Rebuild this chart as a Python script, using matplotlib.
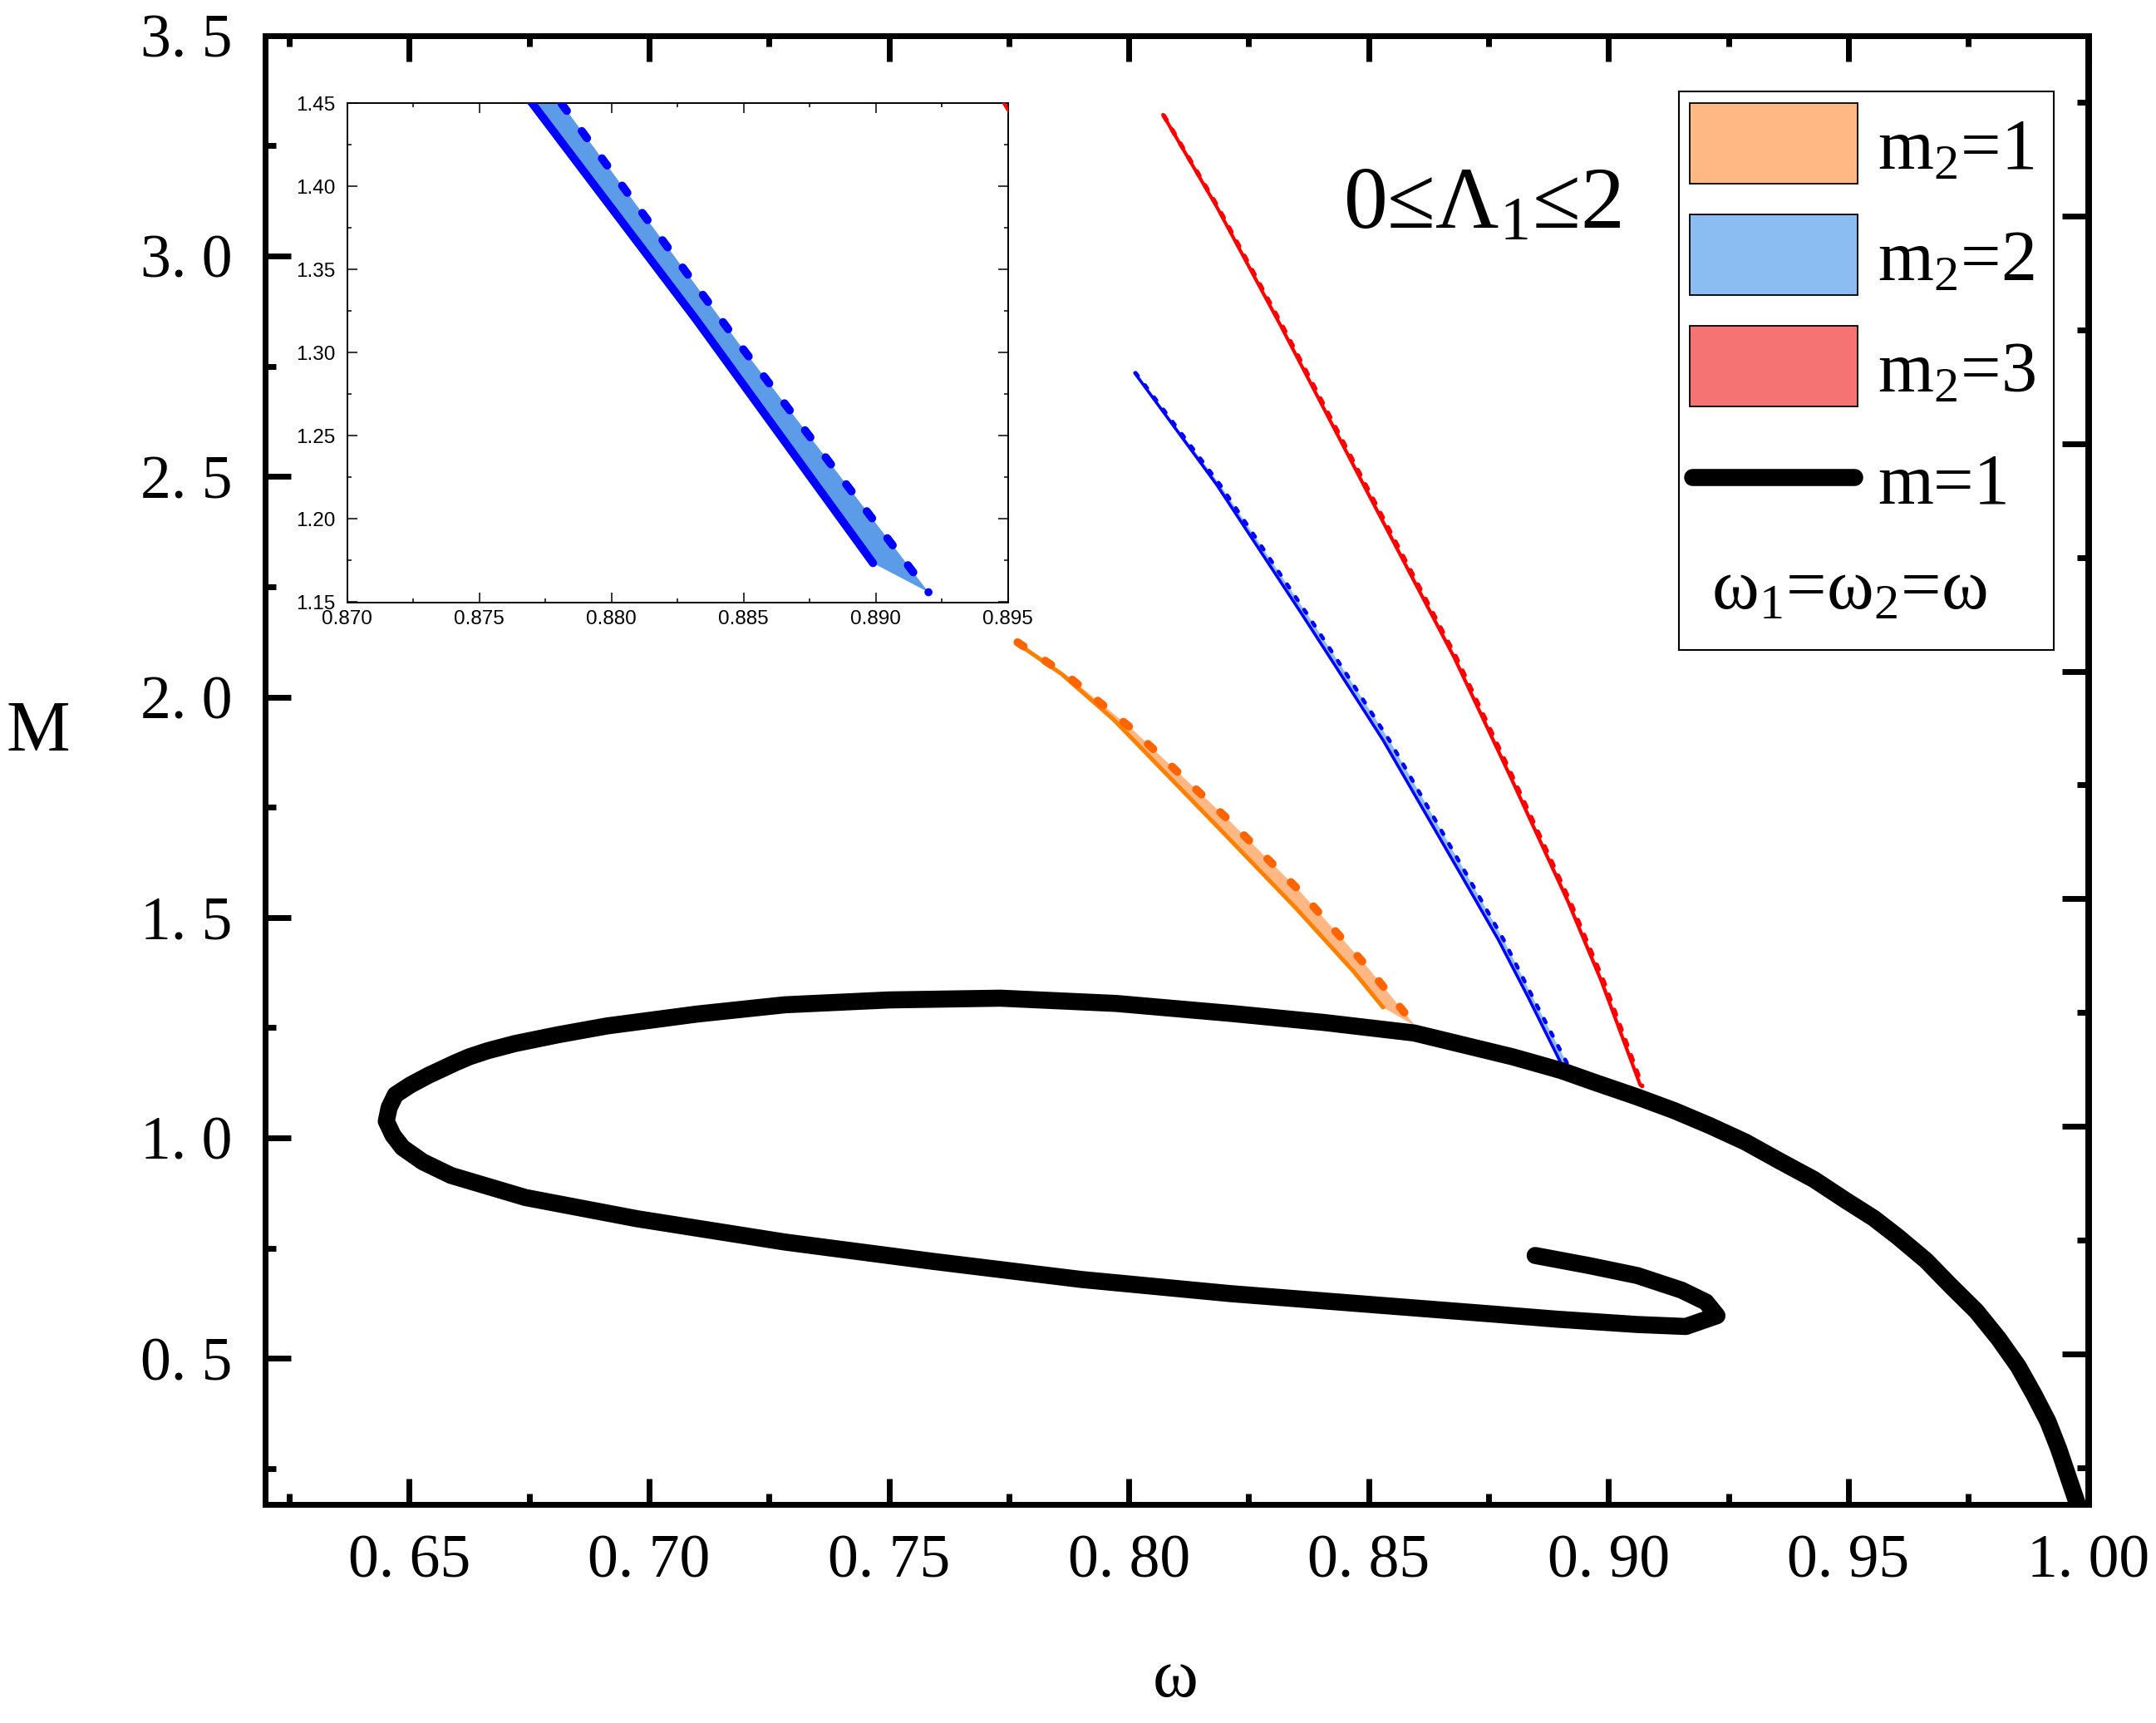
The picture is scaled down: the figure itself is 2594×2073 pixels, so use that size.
import numpy as np
import matplotlib
matplotlib.use("Agg")
import matplotlib.pyplot as plt
from matplotlib.ticker import MultipleLocator, FuncFormatter
from matplotlib.patches import Rectangle

plt.rcParams['font.family'] = ['Liberation Serif', 'DejaVu Serif']
plt.rcParams['mathtext.fontset'] = 'custom'
plt.rcParams['mathtext.rm'] = 'Liberation Serif'
plt.rcParams['mathtext.it'] = 'Liberation Serif:italic'
plt.rcParams['mathtext.default'] = 'regular'

# ---------------- data ----------------
# m = 1 curve (omega, M)
m1_w = [0.9979, 0.9938, 0.9916, 0.9888, 0.9854, 0.9813, 0.9767, 0.9713, 0.9662,
        0.9604, 0.9553, 0.9495, 0.9428, 0.9353, 0.9285, 0.9211, 0.9137,
        0.9060, 0.8974, 0.8901, 0.8800, 0.8595, 0.8406, 0.8217, 0.7974, 0.7732,
        0.7500, 0.7283, 0.7100, 0.6912, 0.6810, 0.6720, 0.6664, 0.6625, 0.6595,
        0.6540, 0.6502, 0.6471,
        0.6458, 0.6452, 0.6466, 0.6486, 0.6528, 0.6587, 0.6742, 0.6974,
        0.7283, 0.7593, 0.7902, 0.8212, 0.8614, 0.8767, 0.8893, 0.9060, 0.9161,
        0.9226, 0.9203, 0.9152, 0.9060, 0.8960, 0.8847]
m1_M = [0.165, 0.296, 0.357, 0.416, 0.482, 0.545, 0.607, 0.665, 0.722,
        0.775, 0.818, 0.858, 0.906, 0.950, 0.991, 1.028, 1.062,
        1.093, 1.125, 1.153, 1.184, 1.238, 1.262, 1.282, 1.305, 1.317,
        1.313, 1.302, 1.281, 1.254, 1.234, 1.214, 1.198, 1.184, 1.170,
        1.142, 1.120, 1.098,
        1.069, 1.038, 1.006, 0.978, 0.946, 0.915, 0.865, 0.817,
        0.764, 0.720, 0.679, 0.647, 0.613, 0.600, 0.589, 0.577, 0.5725,
        0.597, 0.628, 0.655, 0.688, 0.7105, 0.7335]

# m2 = 1 band (solid: Lambda1 = 0 edge, dashed: Lambda1 = 2 edge)
o_sol_w = [0.7772, 0.7860, 0.7968, 0.8190, 0.8345, 0.8469, 0.8530]
o_sol_M = [2.118, 2.052, 1.949, 1.700, 1.525, 1.377, 1.296]
o_das_w = [0.7768, 0.7872, 0.8005, 0.8209, 0.8357, 0.8500, 0.8598]
o_das_M = [2.124, 2.048, 1.929, 1.720, 1.559, 1.384, 1.253]

# m2 = 2 band
b_sol_w = [0.8012, 0.8183, 0.8363, 0.8426, 0.8530, 0.8695, 0.8770, 0.8832, 0.8899]
b_sol_M = [2.735, 2.4815, 2.184, 2.078, 1.902, 1.592, 1.450, 1.320, 1.1735]
b_das_w = [0.8014, 0.8190, 0.8374, 0.8438, 0.8543, 0.8707, 0.8781, 0.8848, 0.8920]
b_das_M = [2.735, 2.4815, 2.184, 2.078, 1.902, 1.592, 1.450, 1.306, 1.156]

# m2 = 3 band
r_sol_w = [0.8071, 0.8183, 0.8316, 0.8497, 0.8678, 0.8795, 0.8915, 0.8985, 0.9066]
r_sol_M = [3.3205, 3.112, 2.843, 2.465, 2.090, 1.820, 1.537, 1.3556, 1.120]
r_das_w = [0.8073, 0.8186, 0.8320, 0.8502, 0.8683, 0.8800, 0.8920, 0.8990, 0.9070]
r_das_M = [3.318, 3.110, 2.841, 2.463, 2.088, 1.818, 1.535, 1.354, 1.118]

legend_labels = ['m$_2$=1', 'm$_2$=2', 'm$_2$=3', 'm=1']
note_text = 'ω$_1$=ω$_2$=ω'
range_text = '0≤Λ$_1$≤2'

# ---------------- figure ----------------
W, H = 2594, 2073
fig = plt.figure(figsize=(W / 100, H / 100), dpi=100)

def frac_box(l, t, r, b):
    return [l / W, 1 - b / H, (r - l) / W, (b - t) / H]

ax = fig.add_axes(frac_box(319.3, 42.7, 2512.5, 1809.5))
ax.set_xlim(0.62, 1.00)
ax.set_ylim(0.17, 3.5)

C_OR_FILL, C_OR_SOL, C_OR_DAS = '#FFB784', '#FF8000', '#FF6400'
C_BL_FILL, C_BL = '#8CBDF2', '#0000FF'
C_RD_FILL, C_RD = '#F57373', '#FF0000'


def band(a, sw, sm, dw, dm, fill, lc_s, lc_d, lw_s, lw_d, dash, z=2):
    a.fill(np.concatenate([sw, dw[::-1]]), np.concatenate([sm, dm[::-1]]),
           color=fill, lw=0, zorder=z)
    a.plot(sw, sm, color=lc_s, lw=lw_s, solid_capstyle='round',
           solid_joinstyle='round', zorder=z + 1)
    a.plot(dw, dm, color=lc_d, lw=lw_d, ls=(0, dash), dash_capstyle='round',
           dash_joinstyle='round', zorder=z + 1)


band(ax, o_sol_w, o_sol_M, o_das_w, o_das_M, C_OR_FILL, C_OR_SOL, C_OR_DAS,
     3.6, 7.0, (0.9, 3.2))
band(ax, b_sol_w, b_sol_M, b_das_w, b_das_M, C_BL_FILL, C_BL, C_BL,
     2.6, 3.4, (1.0, 2.9))
band(ax, r_sol_w, r_sol_M, r_das_w, r_das_M, C_RD_FILL, C_RD, C_RD,
     3.0, 4.0, (1.1, 2.4))

ax.plot(m1_w, m1_M, color='k', lw=14.8, solid_capstyle='round',
        solid_joinstyle='round', zorder=6)

ax.xaxis.set_major_locator(MultipleLocator(0.05))
ax.xaxis.set_minor_locator(MultipleLocator(0.025))
ax.yaxis.set_major_locator(MultipleLocator(0.5))
ax.yaxis.set_minor_locator(MultipleLocator(0.25))
ax.xaxis.set_major_formatter(FuncFormatter(lambda v, p: f"{v:.2f}".replace('.', '. ')))
ax.yaxis.set_major_formatter(FuncFormatter(lambda v, p: f"{v:.1f}".replace('.', '. ')))
ax.tick_params(which='both', direction='in', top=True, right=False, width=5)
ax.tick_params(which='major', length=22.3, labelsize=53)
ax.tick_params(which='minor', length=9.4)
ax.tick_params(axis='x', which='major', pad=26)
ax.tick_params(axis='y', which='major', pad=29)
for s in ax.spines.values():
    s.set_linewidth(5)

# right axis (offset scale as in the original)
axr = ax.twinx()
axr.set_ylim(0.170, 3.397)
axr.yaxis.set_major_locator(MultipleLocator(0.5))
axr.yaxis.set_minor_locator(MultipleLocator(0.25))
axr.tick_params(which='both', direction='in', width=5, labelright=False)
axr.tick_params(which='major', length=22.3)
axr.tick_params(which='minor', length=9.4)
for s in axr.spines.values():
    s.set_linewidth(5)

fig.text(1414 / W, 1 - 2021 / H, 'ω', fontsize=60, ha='center', va='center')
fig.text(46 / W, 1 - 882 / H, 'M', fontsize=62, ha='center', va='center')
fig.text(1616 / W, 1 - 274 / H, range_text, fontsize=76, ha='left', va='baseline')

# ---------------- inset ----------------
axi = fig.add_axes(frac_box(417.7, 124.2, 1212.5, 724.5))
axi.set_xlim(0.870, 0.895)
axi.set_ylim(1.15, 1.45)
band(axi, b_sol_w, b_sol_M, b_das_w, b_das_M, '#5B9BE8', C_BL, C_BL,
     7.0, 7.0, (1.1, 3.1))
band(axi, r_sol_w, r_sol_M, r_das_w, r_das_M, C_RD_FILL, C_RD, C_RD,
     3.0, 3.0, (1.1, 3.1))
axi.xaxis.set_major_locator(MultipleLocator(0.005))
axi.xaxis.set_minor_locator(MultipleLocator(0.0025))
axi.yaxis.set_major_locator(MultipleLocator(0.05))
axi.yaxis.set_minor_locator(MultipleLocator(0.025))
axi.xaxis.set_major_formatter(FuncFormatter(lambda v, p: f"{v:.3f}"))
axi.yaxis.set_major_formatter(FuncFormatter(lambda v, p: f"{v:.2f}"))
axi.tick_params(which='both', direction='in', top=True, right=True, width=1.1)
axi.tick_params(which='major', length=8.4, labelsize=17.5)
axi.tick_params(which='minor', length=3.6)
axi.tick_params(axis='x', which='major', pad=7)
axi.tick_params(axis='y', which='major', pad=10)
for lab in axi.get_xticklabels() + axi.get_yticklabels():
    lab.set_family(['Liberation Sans', 'DejaVu Sans'])
for s in axi.spines.values():
    s.set_linewidth(1.4)

# ---------------- legend box ----------------
LL, LT, LR, LB = 2020, 110, 2471, 782
axl = fig.add_axes(frac_box(LL, LT, LR, LB))
axl.set_xlim(0, LR - LL)
axl.set_ylim(LB - LT, 0)
axl.set_xticks([])
axl.set_yticks([])
for s in axl.spines.values():
    s.set_linewidth(1.5)
patch_cols = [C_OR_FILL, C_BL_FILL, C_RD_FILL]
patch_tops = [14, 148, 282]
baselines = [93, 227, 361]
for col, top, bl, lab in zip(patch_cols, patch_tops, baselines, legend_labels[:3]):
    axl.add_patch(Rectangle((13, top), 202, 97, facecolor=col, edgecolor='k', lw=1.3))
    axl.text(239, bl, lab, fontsize=62, ha='left', va='baseline')
axl.plot([16, 211], [464, 464], color='k', lw=14.8, solid_capstyle='round')
axl.text(239, 495, legend_labels[3], fontsize=62, ha='left', va='baseline')
axl.text(39, 622, note_text, fontsize=62, ha='left', va='baseline')

fig.savefig('out.png', dpi=100)
